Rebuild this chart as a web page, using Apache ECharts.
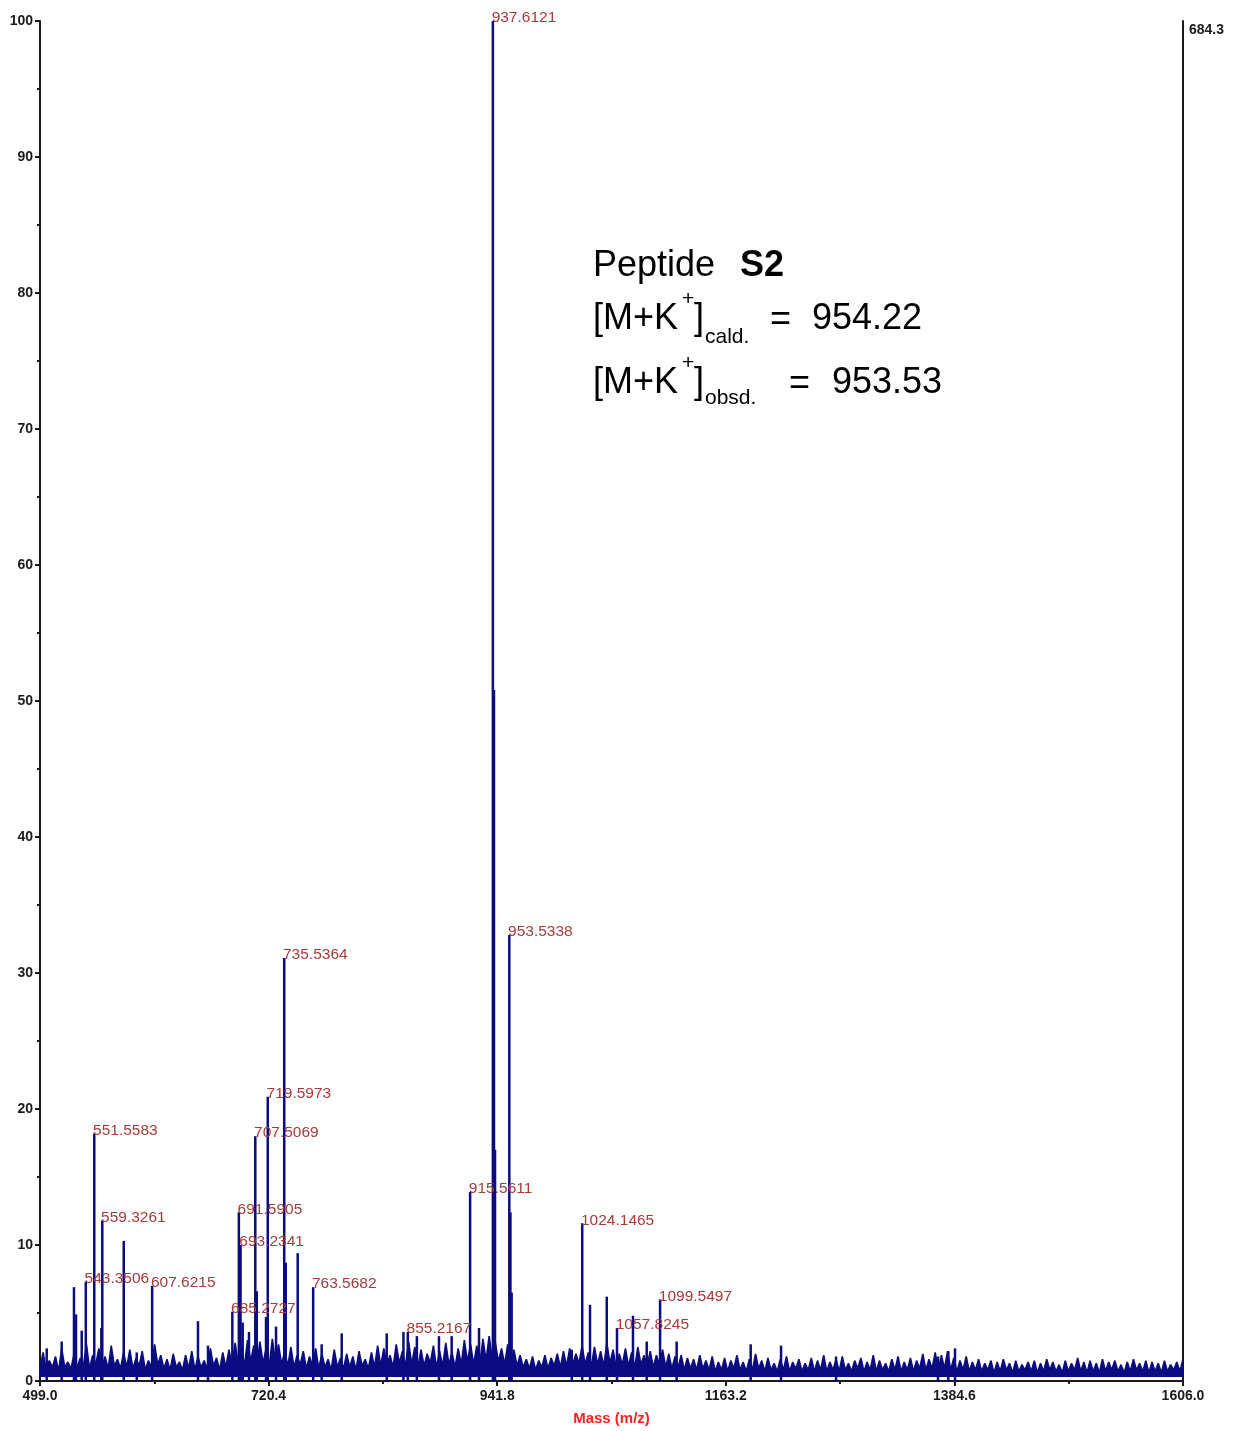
<!DOCTYPE html>
<html>
<head>
<meta charset="utf-8">
<script src="https://cdn.jsdelivr.net/npm/echarts@6/dist/echarts.min.js"></script>
<style>
html,body{margin:0;padding:0;background:#fff;}
#chart{width:1238px;height:1431px;}
</style>
</head>
<body>
<div id="chart"></div>
<script>
// ---- axis ranges and tick labels ----
const xMin = 499.0;
const xMax = 1606.0;
const xTickValues = [499.0, 720.4, 941.8, 1163.2, 1384.6, 1606.0];
const xMinorTickValues = [609.7, 831.1, 1052.5, 1273.9, 1495.3];
const rightAxisTopLabel = '684.3';

// ---- labelled peaks (m/z, relative intensity %) ----
const labeledPeakMz = [543.3506, 551.5583, 559.3261, 607.6215, 685.2727, 691.5905, 693.2341, 707.5069,
  719.5973, 735.5364, 763.5682, 855.2167, 915.5611, 937.6121, 953.5338, 1024.1465, 1057.8245, 1099.5497];
const labeledPeakIntensity = [7.3, 18.2, 11.8, 7.0, 5.1, 12.4, 10.0, 18.0,
  20.9, 31.1, 6.9, 3.6, 13.9, 100, 32.8, 11.6, 3.9, 6.0];

// ---- other visible peaks ----
const otherPeakMz = [505.5, 520.0, 531.9, 533.9, 539.4, 558.4, 580.1, 592.7, 652.0, 661.7,
  695.3, 701.4, 708.9, 717.9, 727.6, 737.0, 748.6, 771.8, 791.2, 834.8, 851.0, 864.0,
  885.4, 897.7, 924.2, 938.7, 939.7, 954.6, 955.8, 1014.0, 1031.7, 1047.9, 1073.3,
  1086.6, 1115.6, 1187.3, 1216.7, 1270.0, 1368.7, 1378.7, 1385.2];
const otherPeakIntensity = [2.4, 2.9, 6.9, 4.9, 3.7, 3.9, 10.3, 2.1, 4.4, 2.6,
  4.3, 3.6, 6.6, 4.7, 4.0, 8.7, 9.4, 2.7, 3.5, 3.5, 3.6, 3.3,
  3.3, 3.3, 3.9, 50.8, 17.0, 12.4, 6.5, 2.3, 5.6, 6.2, 4.8,
  2.9, 2.9, 2.7, 2.6, 1.8, 1.8, 2.2, 2.4];

// ---- baseline noise, sampled every 3 m/z from 499 ----
const noiseStartMz = 499;
const noiseStepMz = 3;
const noiseIntensity = [
  0.9,2.1,0.8,1.5,1.0,1.8,0.7,2.4,1.0,1.4,
  0.9,2.0,1.0,1.7,1.1,2.7,0.9,1.9,1.2,2.4,
  1.0,1.8,0.9,2.6,1.1,1.6,0.9,2.1,1.0,2.3,
  0.9,1.7,1.1,2.2,0.8,1.5,1.0,2.7,1.2,1.9,
  0.9,1.6,0.8,2.0,1.0,1.4,0.8,1.9,0.9,2.2,
  0.8,1.8,1.0,1.5,0.9,2.4,1.1,1.7,0.8,2.1,
  1.0,2.3,1.2,2.8,1.3,2.5,1.1,3.0,1.4,2.6,
  1.2,2.9,1.3,2.4,1.1,3.1,1.4,2.7,1.2,2.2,
  1.1,2.5,1.0,1.9,1.2,2.2,0.9,1.8,1.1,2.4,
  0.9,2.0,1.0,1.6,0.8,2.3,1.0,1.7,0.9,2.0,
  1.0,1.8,0.8,2.2,1.1,1.6,0.9,2.1,1.0,2.6,
  1.1,2.4,1.2,1.9,1.0,2.7,1.3,2.2,1.1,2.9,
  1.2,2.5,1.0,2.3,1.1,2.0,1.3,2.6,1.0,2.2,
  1.1,2.8,1.2,2.1,1.0,2.4,1.2,3.0,1.4,2.7,
  1.2,2.6,1.3,3.1,1.5,3.3,1.6,2.8,1.4,2.4,
  1.2,2.7,1.3,2.3,1.1,1.9,1.0,1.6,0.9,1.8,
  0.8,1.5,1.0,1.9,0.9,1.7,1.1,2.0,1.0,2.2,
  1.1,2.4,1.2,2.0,1.3,2.6,1.2,2.1,1.1,2.5,
  1.2,2.2,1.1,2.8,1.3,2.3,1.0,2.0,1.2,2.4,
  1.1,2.1,1.0,2.5,1.2,1.9,1.1,2.2,1.0,1.9,
  1.2,2.3,1.0,2.0,0.9,1.8,1.0,1.9,0.8,1.7,
  0.9,1.6,0.8,1.9,0.9,1.5,0.8,1.8,0.7,1.4,
  0.8,1.7,0.7,1.5,0.9,1.9,0.8,1.4,0.7,1.6,
  0.8,2.0,0.9,1.5,0.7,1.7,0.8,1.3,0.7,1.6,
  0.8,1.8,0.7,1.4,0.9,1.6,0.7,1.3,0.8,1.7,
  0.7,1.5,0.8,1.9,0.7,1.4,0.8,1.6,0.7,1.8,
  0.8,1.3,0.7,1.5,0.9,1.7,0.7,1.4,0.8,1.9,
  0.7,1.5,0.8,1.3,0.7,1.6,0.8,1.8,0.7,1.4,
  0.8,1.7,0.7,1.5,0.9,2.0,0.8,1.6,0.9,2.1,
  0.8,1.9,0.9,2.2,0.8,1.7,0.7,1.5,0.8,1.8,
  0.7,1.4,0.8,1.6,0.7,1.3,0.8,1.5,0.6,1.4,
  0.7,1.6,0.8,1.3,0.6,1.5,0.7,1.2,0.8,1.4,
  0.7,1.5,0.6,1.3,0.7,1.6,0.8,1.4,0.7,1.2,
  0.6,1.5,0.7,1.3,0.8,1.7,0.7,1.4,0.6,1.5,
  0.7,1.3,0.6,1.6,0.7,1.4,0.8,1.5,0.7,1.2,
  0.6,1.4,0.7,1.6,0.8,1.3,0.7,1.5,0.6,1.4,
  0.7,1.3,0.6,1.5,0.7,1.2,0.8,1.4,0.7,1.6
];

// ---- build series data from the arrays ----
const noiseData = noiseIntensity.map((v, i) => [noiseStartMz + i * noiseStepMz, v]);
const labeledData = labeledPeakMz.map((m, i) => [m, labeledPeakIntensity[i]]);
const otherData = otherPeakMz.map((m, i) => [m, otherPeakIntensity[i]]);

const SPEC = '#0b0b82';
const AXIS = '#1a1a1a';
const FONT = '"Liberation Sans", Arial, sans-serif';

const chart = echarts.init(document.getElementById('chart'), null, {renderer: 'canvas'});

function txt(text, x, y, size, weight) {
  return {
    type: 'text', x: x, y: y, silent: true,
    style: {text: text, fontSize: size, fontFamily: FONT, fontWeight: weight || 'normal',
      fill: '#000', verticalAlign: 'middle', align: 'left'}
  };
}

const option = {
  animation: false,
  backgroundColor: '#fff',
  grid: {left: 40, right: 55, top: 21, bottom: 49, containLabel: false},
  xAxis: [{
    type: 'value', min: xMin, max: xMax, position: 'bottom',
    name: 'Mass (m/z)', nameLocation: 'middle', nameGap: 30,
    nameTextStyle: {color: '#ff2020', fontWeight: 'bold', fontSize: 15, fontFamily: FONT},
    axisLine: {show: true, onZero: false, lineStyle: {color: AXIS, width: 2}},
    axisTick: {show: true, length: 5, inside: false, customValues: xTickValues, lineStyle: {color: AXIS, width: 2}},
    axisLabel: {show: true, customValues: xTickValues, margin: 8, color: AXIS, fontWeight: 'bold', fontSize: 14, fontFamily: FONT,
      formatter: v => v.toFixed(1)},
    splitLine: {show: false}
  }, {
    type: 'value', min: xMin, max: xMax, position: 'bottom',
    axisLine: {show: false},
    axisTick: {show: true, length: 3, customValues: xMinorTickValues, lineStyle: {color: AXIS, width: 2}},
    axisLabel: {show: false},
    splitLine: {show: false}
  }],
  yAxis: [{
    type: 'value', min: 0, max: 100, interval: 10, position: 'left',
    axisLine: {show: true, lineStyle: {color: AXIS, width: 2}},
    axisTick: {show: true, length: 5, lineStyle: {color: AXIS, width: 2}},
    minorTick: {show: true, splitNumber: 2, length: 3, lineStyle: {color: AXIS, width: 2}},
    axisLabel: {margin: 7, color: AXIS, fontWeight: 'bold', fontSize: 14, fontFamily: FONT},
    splitLine: {show: false}
  }, {
    type: 'value', min: 0, max: 100, interval: 100, position: 'right',
    axisLine: {show: true, lineStyle: {color: AXIS, width: 2}},
    axisTick: {show: false},
    axisLabel: {margin: 6, color: AXIS, fontWeight: 'bold', fontSize: 14, fontFamily: FONT, verticalAlign: 'top',
      padding: [2, 0, 0, 0],
      formatter: v => (v === 100 ? rightAxisTopLabel : '')},
    splitLine: {show: false}
  }],
  series: [{
    name: 'noise', type: 'line', xAxisIndex: 0, yAxisIndex: 0,
    data: noiseData, showSymbol: false, symbol: 'none',
    lineStyle: {color: SPEC, width: 1.6},
    areaStyle: {color: SPEC, opacity: 1, origin: 0.3},
    z: 2
  }, {
    name: 'peaks', type: 'bar', xAxisIndex: 0, yAxisIndex: 0,
    data: otherData, barWidth: 2.5, barGap: '-100%',
    itemStyle: {color: SPEC}, z: 3
  }, {
    name: 'labelled', type: 'bar', xAxisIndex: 0, yAxisIndex: 0,
    data: labeledData, barWidth: 2.5, barGap: '-100%',
    itemStyle: {color: SPEC}, z: 4,
    label: {
      show: true, position: [0, 0], offset: [0, -3], align: 'left', verticalAlign: 'middle',
      color: '#a83a3a', fontSize: 15.5, fontFamily: FONT,
      formatter: p => p.value[0].toFixed(4)
    }
  }],
  graphic: [
    txt('Peptide', 593, 266, 36),
    txt('S2', 740, 266, 36, 'bold'),
    txt('[M+K', 593, 319, 36),
    txt('+', 682, 299, 21),
    txt(']', 694, 319, 36),
    txt('cald.', 705, 337, 21),
    txt('=', 770, 320, 36),
    txt('954.22', 812, 319, 36),
    txt('[M+K', 593, 383, 36),
    txt('+', 682, 363, 21),
    txt(']', 694, 383, 36),
    txt('obsd.', 705, 398, 21),
    txt('=', 789, 384, 36),
    txt('953.53', 832, 383, 36)
  ]
};
chart.setOption(option);
</script>
</body>
</html>
